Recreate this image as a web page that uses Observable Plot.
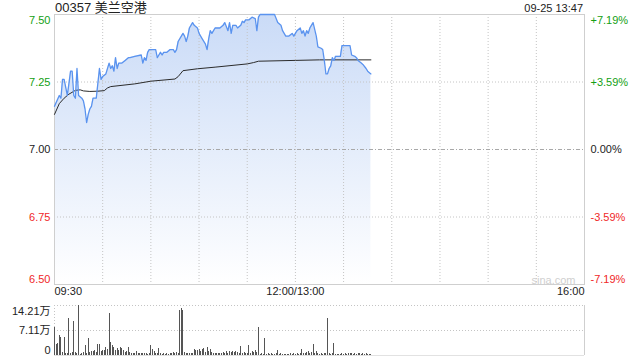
<!DOCTYPE html>
<html><head><meta charset="utf-8">
<script src="https://cdn.jsdelivr.net/npm/d3@7"></script>
<script src="https://cdn.jsdelivr.net/npm/@observablehq/plot@0.6"></script>
<style>
body{margin:0;background:#fff;font-family:Arial,"Liberation Sans","Noto Sans CJK SC",sans-serif;}
#wrap{position:relative;width:640px;height:360px;overflow:hidden;background:#fff;}
#title{position:absolute;left:55px;top:0px;font-size:13px;line-height:16px;color:#222;white-space:nowrap}
#stamp{position:absolute;right:57px;top:1px;font-size:11px;line-height:14px;color:#222;white-space:nowrap}
#main{position:absolute;left:0;top:0}
#vol{position:absolute;left:0;top:300px}
</style></head><body>
<div id="wrap"><div id="main"></div><div id="vol"></div>
<div id="title">00357 美兰空港</div><div id="stamp">09-25 13:47</div></div>
<script>
// ---- data (trading minutes since 09:30, lunch break removed) ----
const stockTitle = "00357 美兰空港";
const prevClose = 7.00;
const priceMinutes = [0,3,4,5,6,8,10,11,12,13,14,15,17,18,19,20,21,22,23,24,26,28,29,30,32,34,35,36,37,38,39,40,42,44,46,47,50,54,55,56,57,58,59,60,62,63,64,65,66,67,68,70,72,74,75,76,77,80,81,82,83,84,86,87,89,90,92,94,95,96,97,98,100,102,103,105,106,108,109,110,111,113,114,116,117,118,119,121,123,125,126,127,128,137,139,141,142,144,146,148,149,150,151,153,154,155,156,157,158,159,161,163,164,166,167,168,169,170,171,172,173,174,175,178,179,184,185,187,188,189,191,192,194,195,197];
const prices = [7.16,7.20,7.19,7.26,7.26,7.20,7.29,7.29,7.20,7.19,7.30,7.20,7.19,7.18,7.15,7.10,7.13,7.15,7.16,7.19,7.19,7.30,7.26,7.27,7.28,7.32,7.30,7.31,7.29,7.34,7.30,7.32,7.32,7.33,7.34,7.34,7.345,7.35,7.32,7.34,7.33,7.36,7.37,7.37,7.37,7.37,7.34,7.35,7.36,7.35,7.36,7.36,7.37,7.37,7.36,7.37,7.40,7.43,7.42,7.40,7.42,7.45,7.47,7.46,7.45,7.43,7.41,7.39,7.37,7.41,7.44,7.43,7.45,7.45,7.45,7.46,7.47,7.44,7.47,7.43,7.46,7.46,7.45,7.46,7.475,7.47,7.48,7.48,7.49,7.485,7.44,7.49,7.50,7.50,7.47,7.46,7.44,7.42,7.42,7.43,7.42,7.43,7.44,7.45,7.43,7.44,7.42,7.44,7.43,7.45,7.47,7.42,7.38,7.375,7.37,7.33,7.28,7.28,7.30,7.31,7.34,7.33,7.345,7.345,7.385,7.385,7.35,7.345,7.34,7.33,7.32,7.315,7.30,7.29,7.28];
const avgMinutes = [0,3,6,9,13,16,18,22,27,31,33,35,50,60,75,77,80,89,100,120,124,127,150,165,197];
const avgPrices = [7.13,7.17,7.19,7.205,7.219,7.221,7.217,7.215,7.216,7.218,7.228,7.233,7.243,7.253,7.261,7.27,7.292,7.299,7.305,7.317,7.322,7.327,7.330,7.332,7.332];
const volumes = [
 80000,30000,33000,58000,52000,8000,50000,5000,6000,106000,
 5000,8000,96000,9000,5000,142100,4000,5000,9000,28000,
 6000,47000,9000,12000,10000,14000,8000,30000,30000,10000,
 14000,15000,24000,18000,120000,38000,28000,23000,14000,19000,
 14000,23000,21000,14000,8000,12000,23000,9000,6000,5000,
 7000,11000,6000,5000,7000,5000,7000,6000,4000,5000,
 28000,18000,11000,6000,7000,19000,5000,4000,6000,4000,
 5000,3000,7000,6000,8000,5000,9000,6000,128000,134500,
 128000,8000,6000,7000,5000,6000,5000,17000,13000,14000,
 18000,12000,17000,21000,8000,24000,12000,17000,9000,6000,
 7000,5000,7000,6000,7000,9000,6000,11000,7000,11000,
 9000,10000,8000,10000,9000,7000,26000,6000,9000,7000,
 5000,28000,6000,11000,8000,14000,9000,80000,4000,5000,
 4000,49000,4000,5000,4000,5000,4000,4000,6000,14000,
 4000,5000,3000,3000,3000,4000,3000,5000,4000,6000,
 4000,5000,4000,6000,17000,5000,7000,9000,11000,6000,
 8000,31000,7000,11000,5000,4000,5000,4000,5000,6000,
 106000,5000,4000,6000,33000,4000,4000,3000,4000,5000,
 4000,5000,4000,5000,5000,6000,4000,5000,4000,5000,
 6000,4000,5000,4000,5000,3000,4000,3000];
const yTickValues = [6.50, 6.75, 7.00, 7.25, 7.50];
const yPctLabels = ["-7.19%", "-3.59%", "0.00%", "+3.59%", "+7.19%"];
const xTickMinutes = [0, 150, 330];
const xTickLabels = ["09:30", "12:00/13:00", "16:00"];
const gridMinutes = [30, 60, 90, 120, 150, 180, 210, 240, 270, 300];
const volTickValues = [0, 71050, 142100];
const volTickLabels = ["0", "7.11万", "14.21万"];
const watermark = "sina.com";

// ---- build ----
const font = 'Arial,"Liberation Sans","Noto Sans CJK SC",sans-serif';
const UP = "#13a013", DOWN = "#f02828", FLAT = "#222";
const colorOf = v => v > prevClose ? UP : v < prevClose ? DOWN : FLAT;
const priceData = priceMinutes.map((m, i) => ({m, p: prices[i]}));
const avgData = avgMinutes.map((m, i) => ({m, a: avgPrices[i]}));
const volData = volumes.map((v, m) => ({m, v}));
const xMax = xTickMinutes[xTickMinutes.length - 1];

function sideLabels(values, labels, xPos, anchor, dx, colorFn) {
  const n = values.length;
  return values.map((v, i) => Plot.text([v], {
    x: xPos, y: d => d, text: () => labels[i], textAnchor: anchor, dx,
    lineAnchor: i === 0 ? "bottom" : i === n - 1 ? "top" : "middle",
    dy: i === 0 ? -2 : i === n - 1 ? 2 : 0,
    fill: colorFn(v)
  }));
}

const yMin = yTickValues[0], yMax = yTickValues[yTickValues.length - 1];
const main = Plot.plot({
  width: 640, height: 300, marginTop: 14, marginBottom: 16, marginLeft: 54, marginRight: 56,
  style: {fontFamily: font, fontSize: "11px", background: "transparent"},
  x: {domain: [0, xMax], axis: null},
  y: {domain: [yMin, yMax], axis: null},
  marks: [
    Plot.areaY(priceData, {x: "m", y1: yMin, y2: "p", fill: "url(#pxGrad)"}),
    Plot.ruleY(yTickValues.filter(v => v !== prevClose && v !== yMin && v !== yMax), {stroke: "#c4c4c4", strokeDasharray: "1,2"}),
    Plot.ruleX(gridMinutes, {stroke: "#c4c4c4", strokeDasharray: "1,2"}),
    Plot.ruleY([prevClose], {stroke: "#a8a8a8", strokeDasharray: "4,2,1,2"}),
    Plot.frame({stroke: "#cfcfcf"}),
    Plot.lineY(avgData, {x: "m", y: "a", stroke: "#2b2b2b", strokeWidth: 1}),
    Plot.lineY(priceData, {x: "m", y: "p", stroke: "#5a93ef", strokeWidth: 1.3}),
    ...sideLabels(yTickValues, yTickValues.map(v => v.toFixed(2)), 0, "end", -4, colorOf),
    ...sideLabels(yTickValues, yPctLabels, xMax, "start", 6, colorOf),
    ...xTickLabels.map((t, i) => Plot.text([t], {
      x: xTickMinutes[i], text: d => d, frameAnchor: "bottom", dy: 10,
      textAnchor: i === 0 ? "start" : i === xTickLabels.length - 1 ? "end" : "middle", fill: "#222"
    })),
    Plot.text([watermark], {x: xMax, y: yMin, text: d => d, textAnchor: "end", lineAnchor: "bottom", dx: -9, dy: -1, fill: "#cfcfcf", fontSize: 11})
  ]
});
const defs = d3.select(main).insert("defs", ":first-child");
const g = defs.append("linearGradient").attr("id", "pxGrad").attr("x1", 0).attr("y1", 0).attr("x2", 0).attr("y2", 1);
g.append("stop").attr("offset", 0).attr("stop-color", "#cadbf7");
g.append("stop").attr("offset", 1).attr("stop-color", "#ffffff");
document.getElementById("main").appendChild(main);

const vMax = volTickValues[volTickValues.length - 1];
const vol = Plot.plot({
  width: 640, height: 60, marginTop: 5, marginBottom: 5, marginLeft: 54, marginRight: 56,
  style: {fontFamily: font, fontSize: "11px", background: "transparent"},
  x: {domain: [0, xMax], axis: null},
  y: {domain: [0, vMax], axis: null},
  marks: [
    Plot.ruleY(volTickValues.slice(1), {stroke: "#c4c4c4", strokeDasharray: "1,2"}),
    Plot.ruleX([0], {stroke: "#c4c4c4", strokeDasharray: "1,2"}),
    Plot.ruleX([xMax], {stroke: "#cfcfcf"}),
    Plot.ruleY([0], {stroke: "#e2e2e2"}),
    Plot.ruleX(volData, {x: "m", y1: 0, y2: "v", stroke: "#555", strokeWidth: 1, shapeRendering: "crispEdges"}),
    ...sideLabels(volTickValues, volTickLabels, 0, "end", -4, () => "#222")
  ]
});
document.getElementById("vol").appendChild(vol);
</script>
</body></html>
